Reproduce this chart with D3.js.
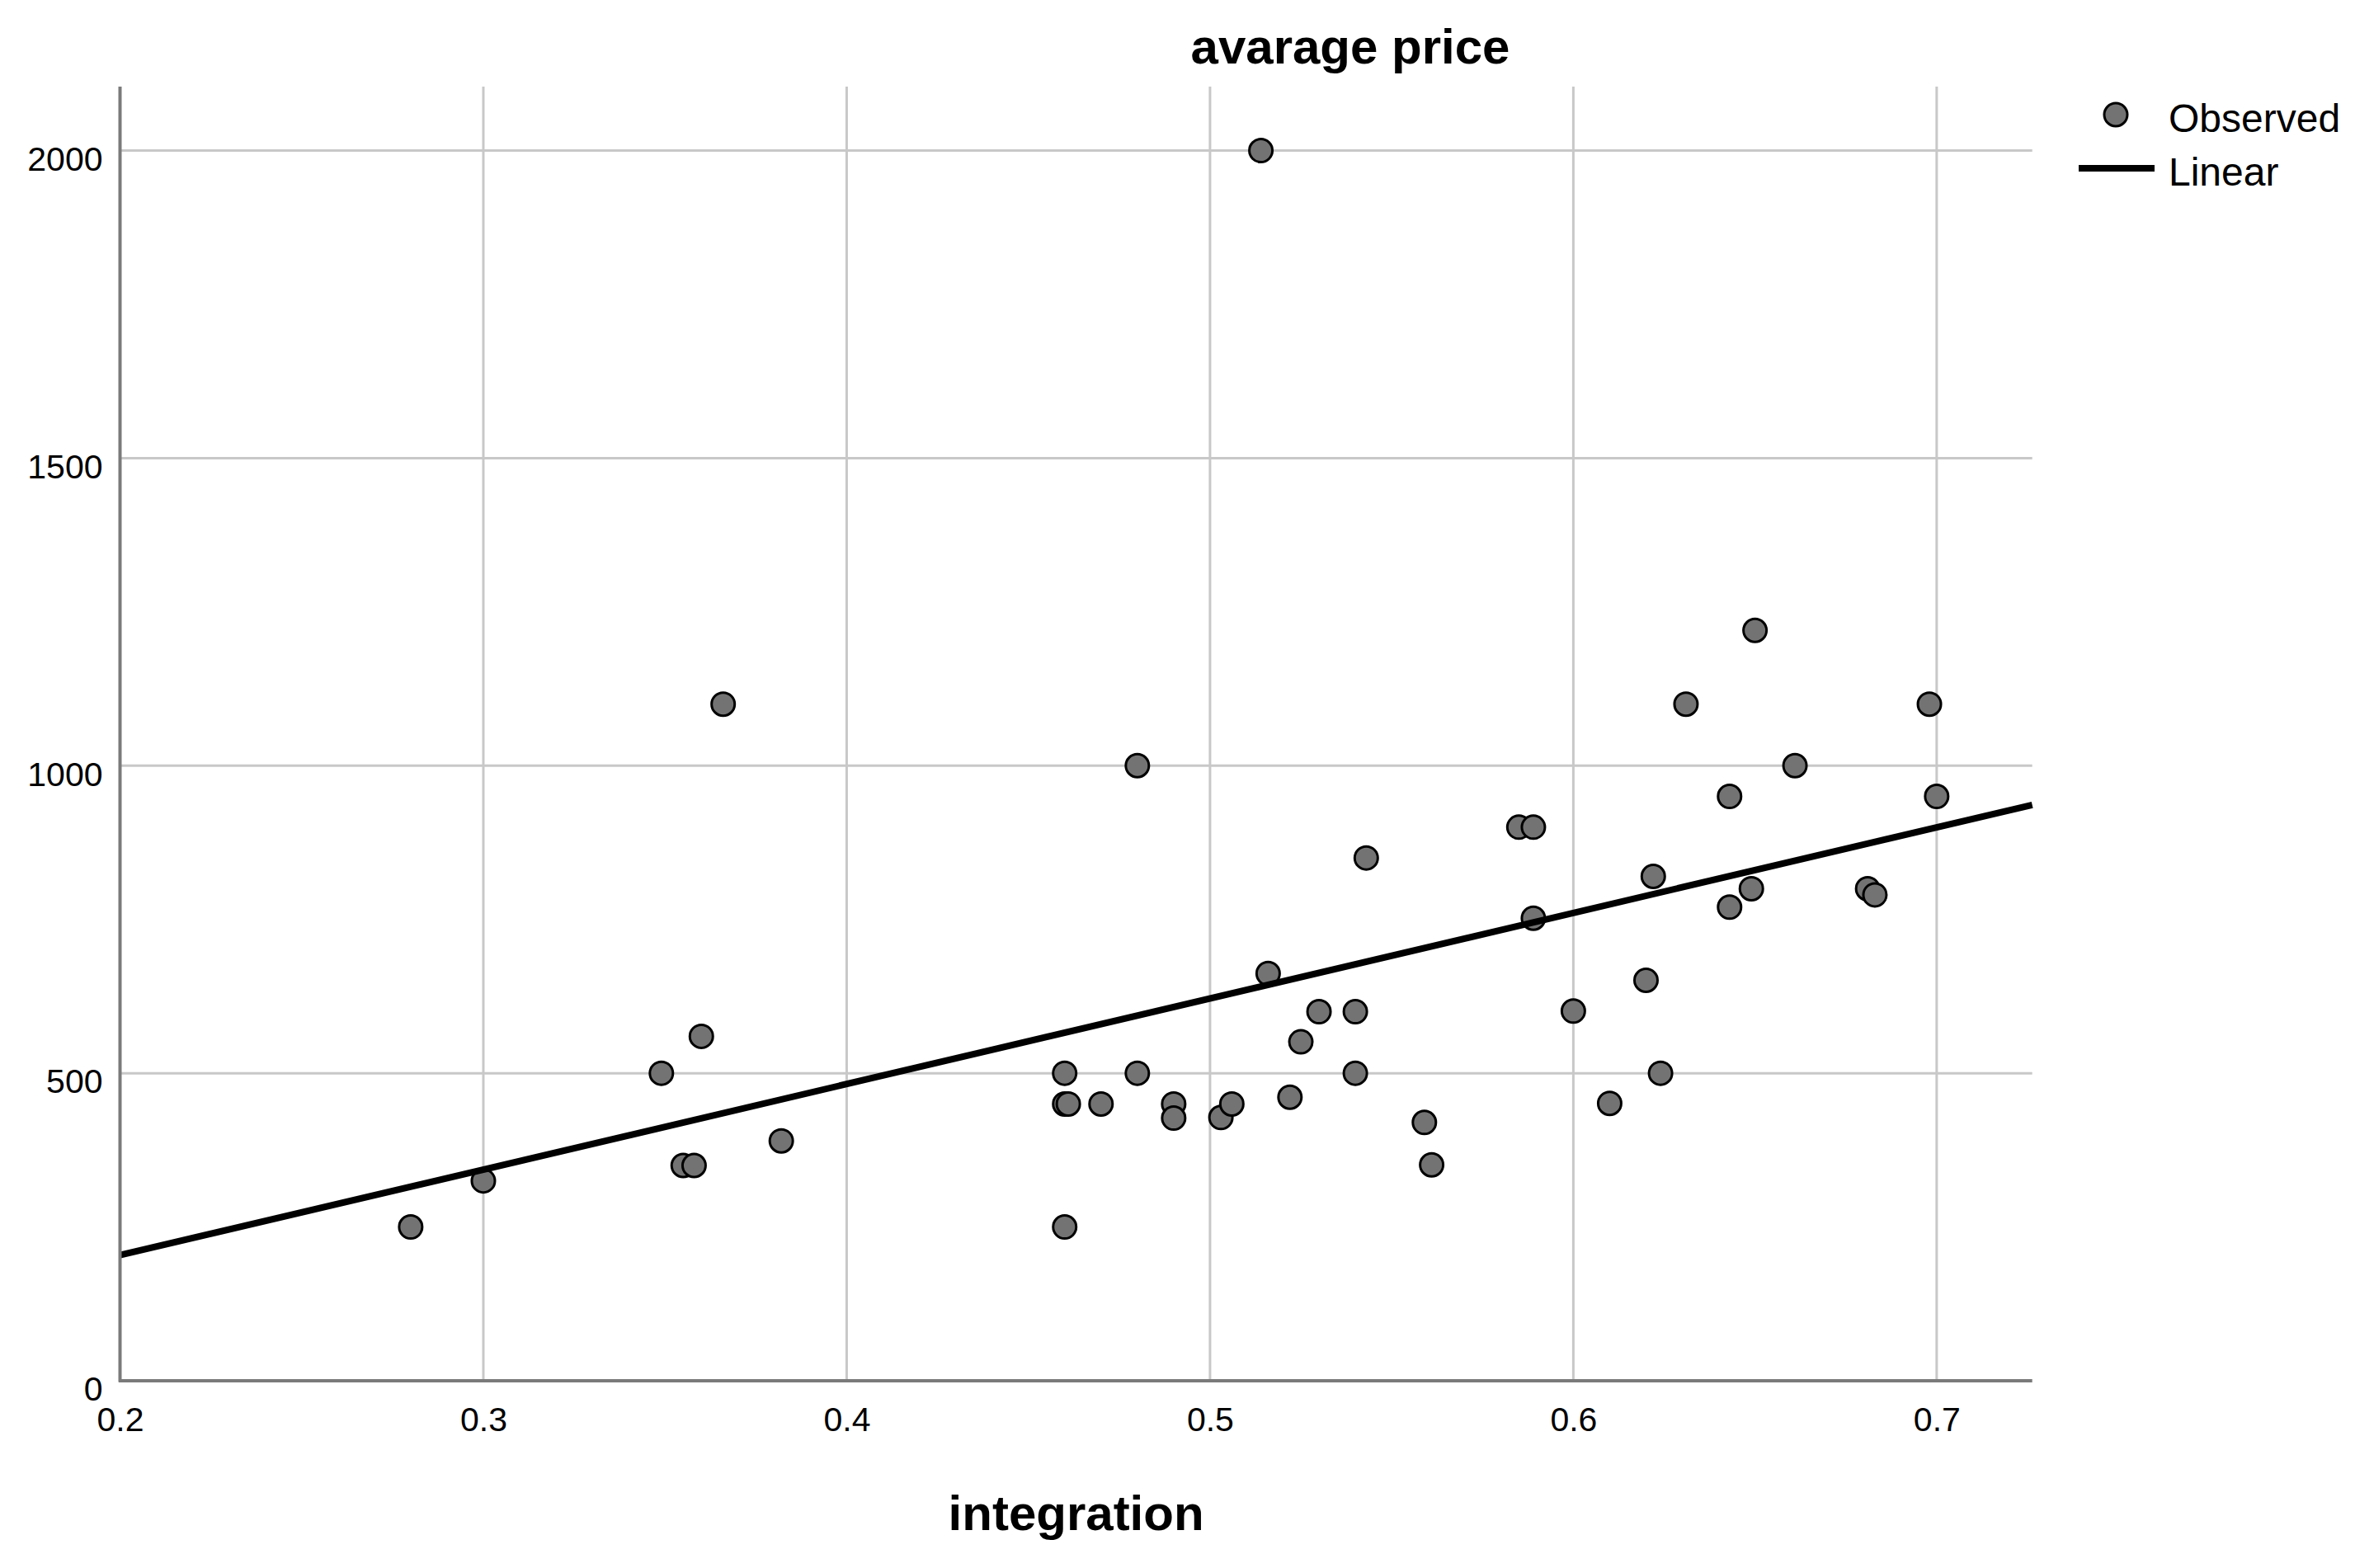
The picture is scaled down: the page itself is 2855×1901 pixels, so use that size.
<!DOCTYPE html>
<html>
<head>
<meta charset="utf-8">
<script src="https://cdn.jsdelivr.net/npm/d3@7/dist/d3.min.js"></script>
<style>
  html, body { margin: 0; padding: 0; background: #ffffff; }
  svg { display: block; font-family: "Liberation Sans", Arial, sans-serif; }
</style>
</head>
<body>
<svg id="chart" width="2855" height="1901"></svg>
<script>
// ---- data ----
const integration = [0.28, 0.30, 0.349, 0.355, 0.358, 0.36, 0.366, 0.382,
  0.46, 0.46, 0.461, 0.46, 0.47, 0.48, 0.48, 0.49, 0.49, 0.503, 0.506,
  0.514, 0.516, 0.522, 0.525, 0.53, 0.54, 0.54, 0.543, 0.559, 0.561,
  0.585, 0.589, 0.589, 0.60, 0.61, 0.62, 0.622, 0.624, 0.631, 0.643,
  0.643, 0.649, 0.65, 0.661, 0.681, 0.683, 0.698, 0.70];
const avgPrice = [250, 325, 500, 350, 350, 560, 1100, 390,
  500, 450, 450, 250, 450, 1000, 500, 450, 427, 428, 450,
  2000, 662, 461, 551, 600, 600, 500, 850, 420, 351,
  900, 900, 752, 601, 451, 651, 820, 500, 1100, 950,
  770, 800, 1220, 1000, 800, 790, 1100, 950];
const linearFit = [-74, 1391];           // intercept, slope
const xDomain = [0.2, 0.7263];
const yDomain = [0, 2104];
const xTickValues = [0.2, 0.3, 0.4, 0.5, 0.6, 0.7];
const yTickValues = [0, 500, 1000, 1500, 2000];
const chartTitle = "avarage price";
const xTitle = "integration";
const legendLabels = ["Observed", "Linear"];

// ---- layout ----
const plotL = 145.5, plotR = 2463.7, plotT = 105, plotB = 1674;
const gridColor = "#c8c8c8", axisColor = "#7a7a7a";
const pointFill = "#737373";

const svg = d3.select("#chart");
const x = d3.scaleLinear().domain(xDomain).range([plotL, plotR]);
const y = d3.scaleLinear().domain(yDomain).range([plotB, plotT]);

// gridlines
svg.append("g").selectAll("line")
  .data(xTickValues.filter(v => v > xDomain[0]))
  .join("line")
  .attr("x1", d => x(d)).attr("x2", d => x(d))
  .attr("y1", plotT).attr("y2", plotB)
  .attr("stroke", gridColor).attr("stroke-width", 3);
svg.append("g").selectAll("line")
  .data(yTickValues.filter(v => v > yDomain[0]))
  .join("line")
  .attr("x1", plotL).attr("x2", plotR)
  .attr("y1", d => y(d)).attr("y2", d => y(d))
  .attr("stroke", gridColor).attr("stroke-width", 3);

// axes (labels only, lines drawn separately)
const yAxis = d3.axisLeft(y).tickValues(yTickValues).tickSize(0).tickPadding(21)
  .tickFormat(d3.format("d"));
const gy = svg.append("g").attr("transform", `translate(${plotL},0)`).call(yAxis);
gy.select(".domain").remove();
gy.selectAll("text").attr("font-size", 41).attr("fill", "#000")
  .attr("font-family", "'Liberation Sans', Arial, sans-serif").attr("dy", "0.58em");

const xAxis = d3.axisBottom(x).tickValues(xTickValues).tickSize(0)
  .tickFormat(d3.format(".1f"));
const gx = svg.append("g").attr("transform", `translate(0,${plotB})`).call(xAxis);
gx.select(".domain").remove();
gx.selectAll("text").attr("font-size", 41).attr("fill", "#000")
  .attr("font-family", "'Liberation Sans', Arial, sans-serif")
  .attr("y", 61).attr("dy", 0);

// points
const pts = integration.map((v, i) => ({ x: v, y: avgPrice[i] }));
svg.append("g").selectAll("circle")
  .data(pts).join("circle")
  .attr("cx", d => x(d.x)).attr("cy", d => y(d.y)).attr("r", 14)
  .attr("fill", pointFill).attr("stroke", "#000").attr("stroke-width", 3);

// linear fit line
const fitLine = xDomain.map(v => ({ x: v, y: linearFit[0] + linearFit[1] * v }));
svg.append("path")
  .datum(fitLine)
  .attr("d", d3.line().x(d => x(d.x)).y(d => y(d.y)))
  .attr("fill", "none").attr("stroke", "#000").attr("stroke-width", 8);

// axis lines
svg.append("line").attr("x1", plotL).attr("x2", plotL).attr("y1", plotT).attr("y2", plotB + 1.5)
  .attr("stroke", axisColor).attr("stroke-width", 4);
svg.append("line").attr("x1", plotL - 1.5).attr("x2", plotR).attr("y1", plotB).attr("y2", plotB)
  .attr("stroke", axisColor).attr("stroke-width", 4);

// titles
svg.append("text").attr("x", 1637).attr("y", 77).attr("text-anchor", "middle")
  .attr("font-size", 60).attr("font-weight", "bold").text(chartTitle);
svg.append("text").attr("x", (plotL + plotR) / 2).attr("y", 1855).attr("text-anchor", "middle")
  .attr("font-size", 60).attr("font-weight", "bold").text(xTitle);

// legend
const lg = svg.append("g");
lg.append("circle").attr("cx", 2565).attr("cy", 139).attr("r", 14)
  .attr("fill", pointFill).attr("stroke", "#000").attr("stroke-width", 3);
lg.append("text").attr("x", 2629).attr("y", 160).attr("font-size", 48).text(legendLabels[0]);
lg.append("line").attr("x1", 2520).attr("x2", 2612).attr("y1", 204).attr("y2", 204)
  .attr("stroke", "#000").attr("stroke-width", 8);
lg.append("text").attr("x", 2629).attr("y", 225).attr("font-size", 48).text(legendLabels[1]);
</script>
</body>
</html>
